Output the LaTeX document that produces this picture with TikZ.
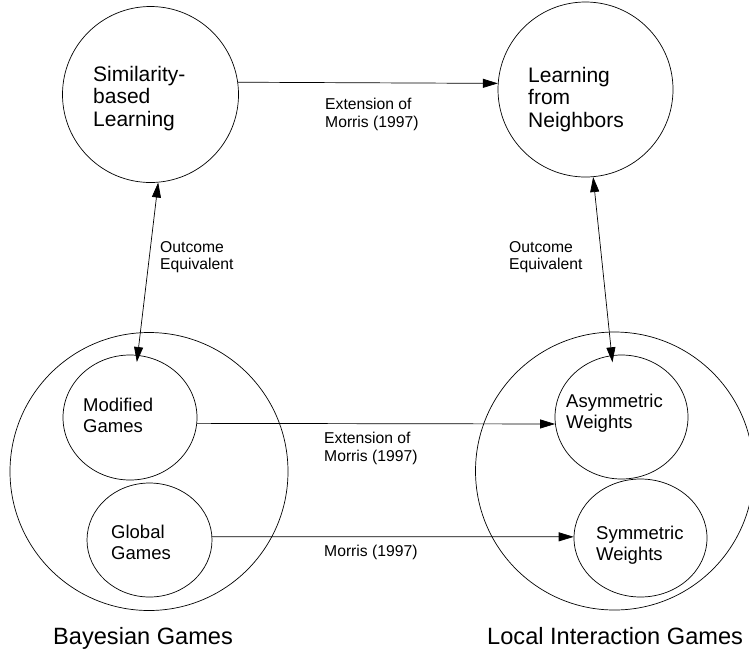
\documentclass[tikz,border=0pt]{standalone}
\usepackage{fontspec}
\setmainfont{Liberation Sans}
\usetikzlibrary{shapes.geometric, arrows.meta}

\begin{document}
\begin{tikzpicture}[
  x=1pt, y=-1pt,
  every node/.style={inner sep=0pt},
  round/.style={circle, draw, line width=0.7pt},
  oval/.style={ellipse, draw, line width=0.7pt},
  txt/.style={anchor=north west, align=left},
  big/.style={txt, font=\fontsize{21}{22.5}\selectfont},
  mid/.style={txt, font=\fontsize{18.5}{20.5}\selectfont},
  note/.style={txt, font=\fontsize{15.7}{17.5}\selectfont},
  title/.style={txt, font=\fontsize{23.6}{26}\selectfont},
  arrow/.style={draw, line width=0.7pt, -{Triangle[length=15pt, width=9pt]}},
  darrow/.style={draw, line width=0.7pt,
    {Triangle[length=15pt, width=9pt]}-{Triangle[length=15pt, width=9pt]}}]

  \useasboundingbox (0,0) rectangle (749,657);

  % learning models
  \node[round, minimum size=176pt] (SBL) at (150.5,94.5) {};
  \node[round, minimum size=175pt] (LFN) at (585.5,89.5) {};

  % game classes
  \node[round, minimum size=278pt] (BG)  at (149,471.5) {};
  \node[round, minimum size=278pt] (LIG) at (614.5,471) {};
  \node[oval, minimum width=134pt, minimum height=125pt] (MG) at (130,417.5) {};
  \node[oval, minimum width=125pt, minimum height=114pt] (GG) at (149.5,540) {};
  \node[oval, minimum width=133pt, minimum height=124pt] (AW) at (621.5,417) {};
  \node[oval, minimum width=133pt, minimum height=118pt] (SW) at (640.5,538) {};

  % texts
  \node[big] (SBLt) at (93,66)  {Similarity-\\based\\Learning};
  \node[big] (LFNt) at (528,67) {Learning\\from\\Neighbors};
  \node[mid] (MGt) at (83,398)  {Modified\\Games};
  \node[mid] (GGt) at (111,525) {Global\\Games};
  \node[mid] (AWt) at (566,394) {Asymmetric\\Weights};
  \node[mid] (SWt) at (596,526) {Symmetric\\Weights};
  \node[title] (BGt)  at (53,627)  {Bayesian Games};
  \node[title] (LIGt) at (487,627) {Local Interaction Games};

  % edge labels
  \node[note] (ext1) at (325,98)  {Extension of\\Morris (1997)};
  \node[note] (ext2) at (324,432) {Extension of\\Morris (1997)};
  \node[note] (mor)  at (324,545) {Morris (1997)};
  \node[note] (oe1)  at (160,241) {Outcome\\Equivalent};
  \node[note] (oe2)  at (509,241) {Outcome\\Equivalent};

  \draw[arrow] (SBL.8) -- (LFN.176);
  \draw[darrow, shorten >=-7pt] (SBL.-85.5) -- (MG.83);
  \draw[darrow, shorten >=-7pt] (LFN.-85) -- (AW.99);
  \draw[arrow] (MG.-5) -- (AW.-174.5);
  \draw[arrow] (GG.3) -- (SW.179);

\end{tikzpicture}
\end{document}
